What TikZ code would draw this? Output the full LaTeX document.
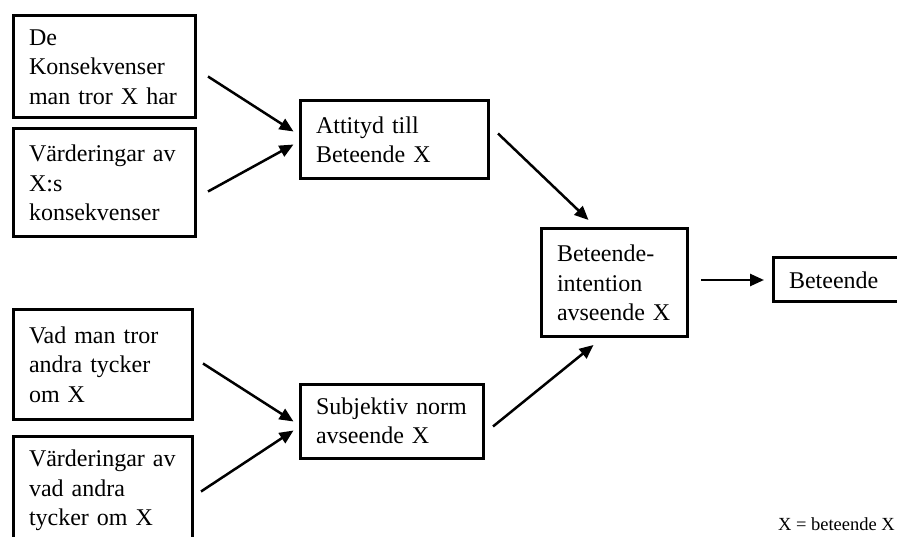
\documentclass[tikz,border=0pt]{standalone}
\usepackage{fontspec}
\setmainfont{Liberation Serif}
\usepackage{tikz}
\usetikzlibrary{arrows.meta}
\usetikzlibrary{calc}
\tikzset{blk/.style={draw, line width=3pt, anchor=north west, align=left,
   inner xsep=16pt, inner ysep=0pt, font=\fontsize{24}{29.5}\selectfont},
 arr/.style={line width=2.5pt, -{Triangle[length=14pt,width=12pt]}},
 }

\begin{document}
\begin{tikzpicture}[x=1pt, y=-1pt]
        \useasboundingbox (0,0) rectangle (897,537);
        \clip (0,0) rectangle (897,537);
        % left column
        \node[blk, text width=150pt, minimum height=102pt] (kons) at (11.5,14.5) {De\\Konsekvenser\\man tror X har};
        \node[blk, text width=150pt, minimum height=108pt] (vard) at (11.5,127.5) {Värderingar av\\X:s\\konsekvenser};
        \node[blk, text width=147pt, minimum height=109pt] (tror) at (11.5,308.5) {Vad man tror\\andra tycker\\om X};
        \node[blk, text width=147pt, minimum height=109pt] (vardandra) at (11.5,434.5) {Värderingar av\\vad andra\\tycker om X};
        % middle
        \node[blk, text width=156pt, minimum height=78pt] (att) at (298.5,99.5) {Attityd till\\Beteende X};
        \node[blk, text width=151pt, minimum height=74pt] (subj) at (298.5,382.5) {Subjektiv norm\\avseende X};
        \node[blk, text width=114pt, minimum height=108pt] (intent) at (539.5,227.5) {Beteende-\\intention\\avseende X};
        \node[blk, text width=130pt, minimum height=44pt] (beh) at (771.5,256.5) {Beteende};
        % arrows
        \draw[arr] ($(kons.east)+(11.5,9.5)$) -- ($(att.west)+(-5,-8.5)$);
        \draw[arr] ($(vard.east)+(11.5,8.5)$) -- ($(att.west)+(-5,4.5)$);
        \draw[arr] ($(tror.east)+(9.5,-1)$) -- ($(subj.west)+(-5,0.5)$);
        \draw[arr] ($(vardandra.east)+(7.5,1)$) -- ($(subj.west)+(-5,9.5)$);
        \draw[arr] ($(att.east)+(8.5,-6.5)$) -- ($(intent.north)+(-25.5,-7.5)$);
        \draw[arr] ($(subj.east)+(8.5,5.5)$) -- ($(intent.south)+(-20.5,6.5)$);
        \draw[arr] ($(intent.east |- beh.west)+(12.5,0)$) -- ($(beh.west)+(-7.5,0)$);
        \node[anchor=base east, inner sep=0pt, font=\fontsize{18.5}{22}\selectfont] (note) at (895,530) {X = beteende X};
    \end{tikzpicture}
\end{document}
